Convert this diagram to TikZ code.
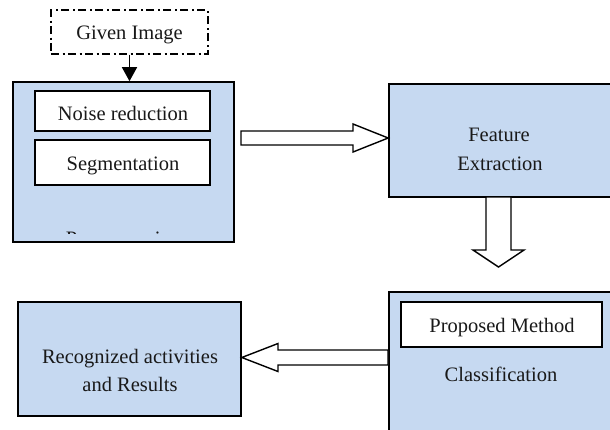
\documentclass[tikz,border=0pt]{standalone}
\usepackage{fontspec}
\setmainfont{Liberation Serif}
\usetikzlibrary{arrows.meta}
\definecolor{boxblue}{RGB}{198,217,241}
\begin{document}
\begin{tikzpicture}[x=1pt,y=-1pt,
  box/.style={draw=black, line width=1.6pt, fill=boxblue, inner sep=0pt, rectangle},
  wbox/.style={draw=black, line width=1.6pt, fill=white, inner sep=0pt, rectangle},
  dbox/.style={draw=black, line width=1.4pt, fill=white, inner sep=0pt, rectangle,
    dash pattern=on 8pt off 3.5pt on 2pt off 3.5pt},
  txt/.style={anchor=base, inner sep=0pt, font=\fontsize{20.5}{24}\selectfont, text=black!90},
  blk/.style={draw=black, line width=1.4pt, fill=white, line join=miter}]
\useasboundingbox (0,0) rectangle (610,429);
\clip (0,0) rectangle (610,429);
% Given image
\node[dbox, minimum width=157pt, minimum height=44pt] (gi) at (129.5,32) {};
\node[txt] (gi-t) at (129.5,39) {Given Image};
% Preprocessing
\node[box, minimum width=221pt, minimum height=160pt] (pre) at (123.5,162) {};
\begin{scope}
  \clip (15,84) rectangle (232,233.6);
  \node[txt] (pre-t) at (123.5,245.6) {Preprocessing};
\end{scope}
\node[wbox, minimum width=175pt, minimum height=40pt] (nr) at (122.5,111) {};
\node[txt] (nr-t) at (123,120) {Noise reduction};
\node[wbox, minimum width=175pt, minimum height=45pt] (seg) at (122.5,162.5) {};
\node[txt] (seg-t) at (123,170) {Segmentation};
% Feature extraction
\node[box, minimum width=223pt, minimum height=113pt] (fe) at (500.5,140.5) {};
\node[txt] (fe-t1) at (499,141.5) {Feature};
\node[txt] (fe-t2) at (500,170) {Extraction};
% Classification
\node[box, minimum width=223pt, minimum height=143pt] (cl) at (500.5,363.5) {};
\node[wbox, minimum width=201pt, minimum height=45pt] (pm) at (501.5,324.5) {};
\node[txt] (pm-t) at (502,332) {Proposed Method};
\node[txt] (cl-t) at (501,381.7) {Classification};
% Results
\node[box, minimum width=223pt, minimum height=114pt] (rec) at (129.5,359) {};
\node[txt] (rec-t1) at (130,363.5) {Recognized activities};
\node[txt] (rec-t2) at (130,391) {and Results};
% connectors
\draw[line width=1.5pt, -{Triangle[length=14pt,width=15pt]}] (gi.south) -- (gi.south |- pre.north);
\draw[blk] (241,131) -- (353,131) -- (353,124) -- (fe.west |- 0,138) -- (353,152) -- (353,145) -- (241,145) -- cycle;
\draw[blk] (486,197) -- (511,197) -- (511,250) -- (524,250) -- (498.5,267) -- (473,250) -- (486,250) -- cycle;
\draw[blk] (388,350) -- (278,350) -- (278,343.5) -- (rec.east |- 0,357.5) -- (278,371.5) -- (278,365) -- (388,365) -- cycle;
\end{tikzpicture}
\end{document}
